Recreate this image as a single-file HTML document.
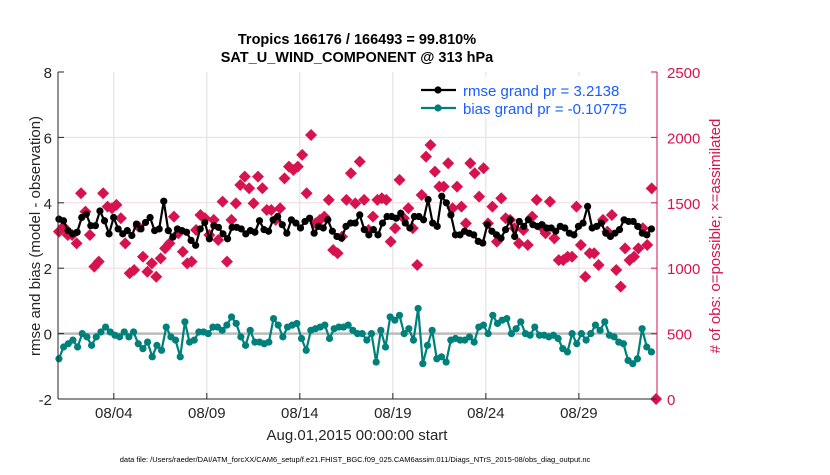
<!DOCTYPE html>
<html><head><meta charset="utf-8"><style>
body{margin:0;background:#fff;font-family:"Liberation Sans",sans-serif}
</style></head><body>
<svg id="c" width="830" height="470" xmlns="http://www.w3.org/2000/svg" font-family="Liberation Sans, sans-serif">
<rect width="830" height="470" fill="#fff"/>
<g id="grid"></g>
<g id="marks"></g>
<g id="axes"></g>
</svg>
<script>
const rmse=[3.5,3.45,3.15,3.05,3.1,3.55,3.65,3.3,3.3,3.75,3.45,3.05,3.55,3.2,3.05,3.15,3.0,3.35,3.2,3.4,3.55,3.15,3.2,4.05,3.15,2.95,3.2,3.15,3.1,2.85,2.7,3.2,3.4,2.9,3.3,3.25,3.05,2.9,3.25,3.25,3.2,3.05,3.15,3.1,3.45,
3.18,3.13,3.48,3.58,3.33,3.07,3.48,3.38,3.23,3.43,3.53,3.07,3.28,3.23,3.48,3.13,2.97,2.92,3.28,3.38,3.38,3.63,3.18,3.02,3.18,3.02,3.38,3.58,3.58,3.53,3.68,3.38,3.23,3.58,3.58,3.48,4.1,3.38,3.28,4.2,4.0,
3.63,3.02,3.02,3.13,3.07,3.02,2.82,2.77,3.33,3.13,3.02,2.92,3.18,3.48,2.97,3.43,3.28,3.48,3.33,3.28,3.33,3.23,3.23,3.13,3.28,3.23,3.07,3.02,3.28,3.38,3.89,3.23,3.28,3.38,3.07,2.97,3.07,3.18,3.48,3.43,3.43,3.28,3.07,3.02,3.2];
const bias=[-0.77,-0.41,-0.31,-0.2,-0.41,0,-0.1,-0.36,-0.1,0.05,0.2,0.05,-0.05,-0.1,0.05,-0.1,0.05,-0.31,-0.46,-0.26,-0.71,-0.36,-0.51,0.2,-0.1,-0.2,-0.71,0.36,-0.26,-0.2,0.05,0.05,0,0.2,0.2,0.1,0.26,0.51,0.31,-0.1,-0.36,0.1,-0.26,-0.26,-0.31,-0.26,0.46,0.26,-0.1,0.2,0.26,0.31,-0.15,-0.51,0.1,0.15,0.2,0.26,-0.15,0.15,0.2,0.2,0.26,0.1,0,0,-0.2,0,
-0.87,0.1,-0.41,0.51,0.41,0.56,0,0.15,-0.2,0.77,-0.92,-0.36,0.1,-0.77,-0.71,-0.87,-0.2,-0.15,-0.2,-0.2,-0.1,-0.26,0.2,0.26,0,0.56,0.31,0.41,0.46,0,0.15,0.36,0,-0.05,0.2,-0.05,-0.05,-0.1,-0.05,-0.15,-0.46,-0.56,0,-0.31,0,-0.2,0,0.26,0.1,0.36,-0.05,-0.1,-0.26,-0.31,-0.82,-0.92,-0.77,0.15,-0.41,-0.56];
const nobs=[1280,1318,1254,1254,1190,1573,1433,1254,1012,1050,1573,1471,1458,1484,1382,1190,961,986,1318,1088,973,1037,935,1075,1152,1190,1394,1267,1126,1037,1050,1292,1407,1382,1254,1369,1216,1509,1050,1369,1496,1636,1700,1611,
1496,1700,1611,1445,1445,1369,1458,1687,1777,1751,1777,1866,1573,2018,1343,1369,1394,1522,1139,1114,1241,1522,1726,1496,1815,1522,1292,1394,1522,1535,1522,1203,1305,1675,1382,1458,
1305,1024,1560,1853,1942,1738,1624,1624,1802,1458,1624,1471,1343,1802,1726,1547,1764,1343,1471,1203,1535,1382,1369,1305,1190,1292,1177,1394,1522,1318,1267,1509,1228,1062,1062,1088,1088,1471,1177,935,1114,1114,1024,1369,1280,1407,986,859,1152,1062,1088,1152,1305,1177,1610,0];
const xTickDays=[3,8,13,18,23,28];
const xTickLabels=["08/04","08/09","08/14","08/19","08/24","08/29"];
const yLeftTicks=[-2,0,2,4,6,8];
const yRightTicks=[0,500,1000,1500,2000,2500];

const X0=58,X1=657,Y0=72,Y1=399,DAYS=32.2;
const xs=d=>X0+(X1-X0)*d/DAYS;
const yl=v=>Y1-(v+2)/10*(Y1-Y0);
const yr=v=>Y1-v/2500*(Y1-Y0);
const NS="http://www.w3.org/2000/svg";
function mk(tag,attrs,parent,text){const e=document.createElementNS(NS,tag);for(const k in attrs)e.setAttribute(k,attrs[k]);if(text!==undefined)e.textContent=text;parent.appendChild(e);return e;}
const grid=document.getElementById('grid'),marks=document.getElementById('marks'),axes=document.getElementById('axes');

xTickDays.forEach((d,i)=>{
 const l=mk('line',{x1:xs(d),x2:xs(d),y1:Y0,y2:Y1,stroke:'#ddd','stroke-width':1},grid);
 
 
 const t=mk('text',{x:xs(d),y:418,'text-anchor':'middle','font-size':15,fill:'#262626'},axes,xTickLabels[i]);
 
 
 mk('line',{x1:xs(d),x2:xs(d),y1:Y1,y2:Y1-6,stroke:'#262626'},axes);
});
yRightTicks.forEach(v=>{
 if(v>0&&v<2500){const l=mk('line',{x1:X0,x2:X1,y1:yr(v),y2:yr(v),stroke:'#f2d7e0','stroke-width':1},grid);
 
 }
 const t=mk('text',{x:667,y:yr(v)+6,'font-size':15,fill:'#d6134f'},axes,String(v));
 
 
 mk('line',{x1:X1,x2:X1-6,y1:yr(v),y2:yr(v),stroke:'#d6134f'},axes);
});
yLeftTicks.forEach(v=>{
 const t=mk('text',{x:52,y:yl(v)+6,'text-anchor':'end','font-size':15,fill:'#262626'},axes,String(v));
 
 
 mk('line',{x1:X0,x2:X0+6,y1:yl(v),y2:yl(v),stroke:'#262626'},axes);
});
const z=mk('line',{x1:X0,x2:X1,y1:yl(0),y2:yl(0),stroke:'#bbb','stroke-width':2.5},grid);



nobs.forEach((v,i)=>{
 const x=xs(0.05+i*32.1/(nobs.length-1)),y=yr(v);
 const p=mk('path',{d:`M${x} ${y-6}L${x+6} ${y}L${x} ${y+6}L${x-6} ${y}Z`,fill:'#d6134f'},marks);
 
 
});
function series(arr,color,name){
 const pts=arr.map((v,i)=>[xs(0.05+i*31.85/(arr.length-1)),yl(v)]);
 const pl=mk('polyline',{points:pts.map(p=>p.join(',')).join(' '),fill:'none',stroke:color,'stroke-width':2.2},marks);
 
 
 pts.forEach(p=>{const c=mk('circle',{cx:p[0],cy:p[1],r:3.6,fill:color},marks);
 
 });
}
series(rmse,'#000','rmse');
series(bias,'#00807a','bias');

mk('line',{x1:X0,x2:X0,y1:Y0,y2:Y1,stroke:'#262626'},axes);
mk('line',{x1:X0,x2:X1,y1:Y1,y2:Y1,stroke:'#262626'},axes);
mk('line',{x1:X1,x2:X1,y1:Y0,y2:Y1,stroke:'#d6134f'},axes);
</script>
<svg width="830" height="470" style="position:absolute;left:0;top:0" font-family="Liberation Sans, sans-serif">
<text x="357" y="44" text-anchor="middle" font-size="14.5" font-weight="bold" fill="#000">Tropics 166176 / 166493 = 99.810%</text>
<text x="357" y="62" text-anchor="middle" font-size="14.5" font-weight="bold" fill="#000">SAT_U_WIND_COMPONENT @ 313 hPa</text>
<g>
<rect x="415" y="77" width="233" height="41" fill="#fff" stroke="#fff"/>
<line x1="421" y1="90" x2="456" y2="90" stroke="#000" stroke-width="2.2"/><circle cx="438" cy="90" r="3.6" fill="#000"/>
<text x="463" y="96" font-size="15" fill="#1a5cff">rmse grand pr = 3.2138</text>
<line x1="421" y1="108" x2="456" y2="108" stroke="#00807a" stroke-width="2.2"/><circle cx="438" cy="108" r="3.6" fill="#00807a"/>
<text x="463" y="114" font-size="15" fill="#1a5cff">bias grand pr = -0.10775</text>
</g>
<text transform="translate(40,236) rotate(-90)" text-anchor="middle" font-size="15" fill="#262626">rmse and bias (model - observation)</text>
<text transform="translate(720,236) rotate(-90)" text-anchor="middle" font-size="15" fill="#d6134f"># of obs: o=possible; ×=assimilated</text>
<text x="357" y="440" text-anchor="middle" font-size="15" fill="#262626">Aug.01,2015 00:00:00 start</text>
<text x="355" y="462" text-anchor="middle" font-size="7.5" fill="#000">data file: /Users/raeder/DAI/ATM_forcXX/CAM6_setup/f.e21.FHIST_BGC.f09_025.CAM6assim.011/Diags_NTrS_2015-08/obs_diag_output.nc</text>
</svg>
</body></html>
